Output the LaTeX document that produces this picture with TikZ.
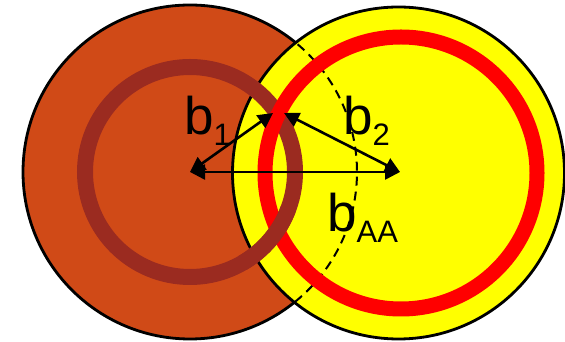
\documentclass[tikz,border=0pt]{standalone}
\usepackage{fontspec}
\setmainfont{Liberation Sans}
\usetikzlibrary{arrows.meta}
\definecolor{diskA}{RGB}{208,74,23}
\definecolor{ringA}{RGB}{155,43,32}
\definecolor{diskB}{RGB}{255,255,0}
\definecolor{ringB}{RGB}{255,0,0}
\tikzset{
  outline/.style={draw=black,line width=2.8pt},
  ringonestyle/.style={draw=ringA,line width=16pt},
  ringtwostyle/.style={draw=ringB,line width=15pt},
  dimarrow/.style={line width=2.6pt,{Triangle[length=15pt,width=15pt]}-{Triangle[length=15pt,width=15pt]}},
  lbl/.style={inner sep=0pt,anchor=base west,font=\fontsize{53}{60}\selectfont},
}
\newcommand{\mysub}[1]{\raisebox{-11pt}{\fontsize{31}{34}\selectfont #1}}
\begin{document}
\begin{tikzpicture}[x=1pt,y=1pt]
\useasboundingbox (0,0) rectangle (565,342);
\coordinate (cA) at (190,170);
\coordinate (cB) at (398.5,169);
\coordinate (cR) at (401,169);
\coordinate (cArrow) at (400,170);
\coordinate (p1) at (273,229);
\coordinate (p2) at (284,229);
% left disk
\fill[diskA] (cA) circle[radius=167pt];
\draw[outline] (cA) circle[radius=167pt];
% right disk
\fill[diskB] (cB) circle[radius=166pt];
\draw[outline] (cB) circle[radius=166pt];
% hidden part of left circle
\draw[line width=2pt,dash pattern=on 9pt off 6pt] ([shift={(-51:167pt)}]cA) arc[start angle=-51,end angle=51,radius=167pt];
% rings
\draw[ringonestyle] (cA) circle[radius=105pt];
\draw[ringtwostyle] (cR) circle[radius=136pt];
\draw[ringonestyle] ([shift={(-20:105pt)}]cA) arc[start angle=-20,end angle=-60,radius=105pt];
% arrows
\draw[dimarrow] (cA) -- (cArrow);
\draw[dimarrow] (cA) -- (p1);
\draw[dimarrow] (p2) -- (cArrow);
% labels
\node[lbl] (l1) at (184,207) {b\mysub{1}};
\node[lbl] (l2) at (343,207) {b\mysub{2}};
\node[lbl] (l3) at (327,110) {b\mysub{AA}};
\end{tikzpicture}
\end{document}
